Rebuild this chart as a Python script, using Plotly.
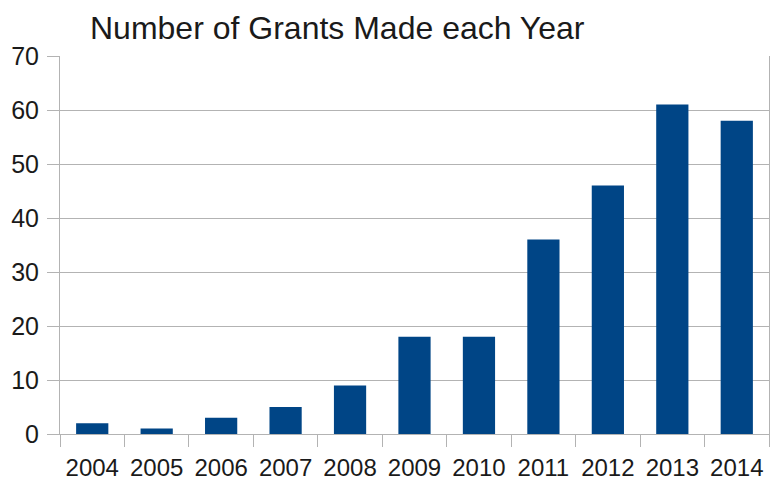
import plotly.graph_objects as go

years = ["2004", "2005", "2006", "2007", "2008", "2009", "2010", "2011", "2012", "2013", "2014"]
grants = [2, 1, 3, 5, 9, 18, 18, 36, 46, 61, 58]
y_ticks = [0, 10, 20, 30, 40, 50, 60, 70]

fig = go.Figure(
    go.Bar(x=years, y=grants, marker=dict(color="#004586", line=dict(width=0)), width=0.5)
)

fig.update_layout(
    width=773, height=484,
    margin=dict(l=60, r=4, t=56, b=50),
    paper_bgcolor="white", plot_bgcolor="white",
    font=dict(family="Liberation Sans, Arial, sans-serif", color="#1a1a1a"),
    title=dict(
        text="Number of Grants Made each Year",
        font=dict(size=32, color="#1a1a1a"),
        x=90 / 773, xanchor="left", xref="container",
        y=1 - 28 / 484, yanchor="middle", yref="container",
        pad=dict(l=0, r=0, t=0, b=0),
    ),
    showlegend=False,
    bargap=0.5,
)

fig.update_xaxes(
    type="category",
    tickson="boundaries",
    ticks="outside", ticklen=12, tickcolor="#b3b3b3", tickwidth=1,
    showline=True, linecolor="#b3b3b3", linewidth=1,
    showgrid=False,
    automargin=False,
    ticklabelstandoff=12,
    tickfont=dict(size=24, color="#1a1a1a"),
)
fig.update_yaxes(
    range=[0, 70], tickvals=y_ticks,
    ticks="outside", ticklen=12, tickcolor="#b3b3b3", tickwidth=1,
    showline=True, mirror=True, linecolor="#b3b3b3", linewidth=1,
    showgrid=True, gridcolor="#b3b3b3", gridwidth=1,
    zeroline=False,
    automargin=False,
    ticklabelstandoff=3,
    tickfont=dict(size=25, color="#1a1a1a"),
)

fig.write_html(
    "out.html",
    config={"displayModeBar": False},
    post_script="document.body.style.margin='0';document.body.style.overflow='hidden';",
)
